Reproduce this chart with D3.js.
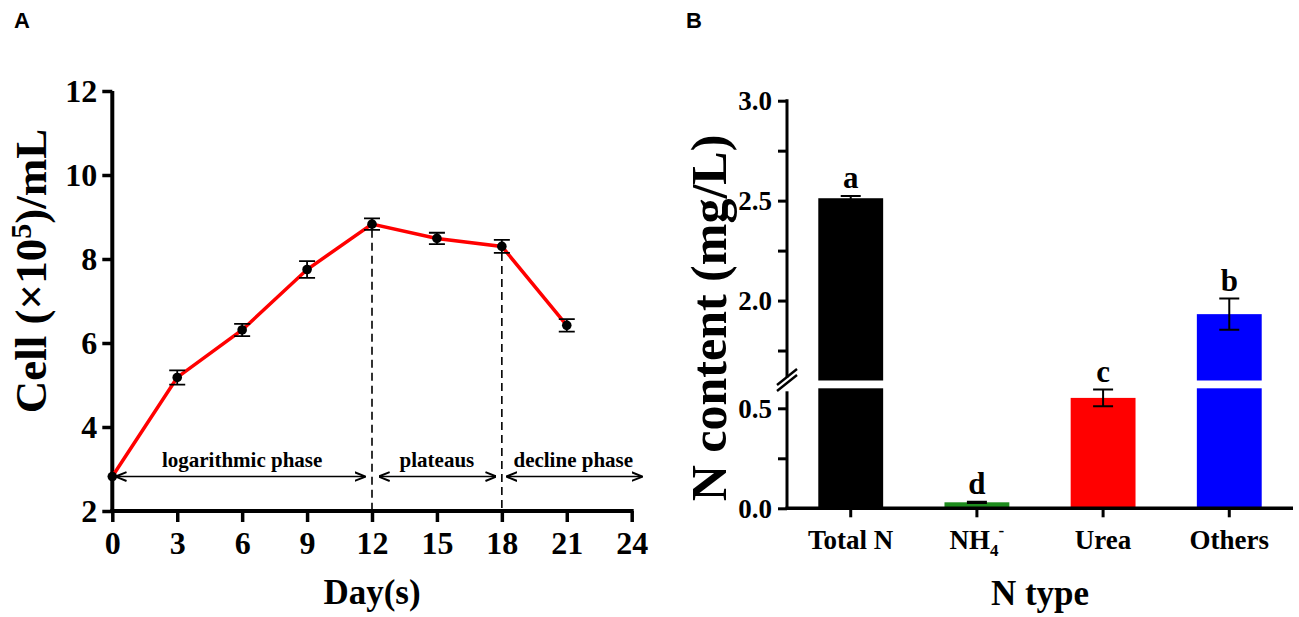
<!DOCTYPE html>
<html><head><meta charset="utf-8">
<script src="https://cdn.jsdelivr.net/npm/d3@7"></script>
<style>
body{margin:0;background:#fff;}
svg{display:block;}
text{font-family:"Liberation Serif","Times New Roman",serif;font-weight:bold;fill:#000;}
.pan{font-family:"Liberation Sans",Arial,sans-serif;}
</style></head><body>
<script>
// ---------- Panel A data ----------
const days = [0, 3, 6, 9, 12, 15, 18, 21];
const cells = [2.82, 5.18, 6.31, 7.75, 8.83, 8.49, 8.30, 6.42];
const cellErr = [0, 0.17, 0.145, 0.20, 0.135, 0.135, 0.155, 0.15];
const dayTicks = [0, 3, 6, 9, 12, 15, 18, 21, 24];
const cellTicks = [2, 4, 6, 8, 10, 12];
const phaseLabels = ["logarithmic phase", "plateaus", "decline phase"];
const phaseStart = [0.2, 12.36, 18.25];
const phaseEnd = [11.65, 17.7, 24.45];
const phaseCenter = [6, 15, 21.3];
const phaseDividers = [12, 18];

// ---------- Panel B data ----------
const nTypes = ["Total N", "NH4-", "Urea", "Others"];
const nValues = [2.512, 0.03, 0.552, 1.932];
const nErr = [0.011, 0.003, 0.042, 0.078];
const nLetters = ["a", "d", "c", "b"];
const nColors = ["#000000", "#1e8c1e", "#ff0000", "#0000ff"];
const lowTicks = [0, 0.25, 0.5];
const highTicks = [1.75, 2.0, 2.25, 2.5, 2.75, 3.0];

const W = 1299, H = 617;
const svg = d3.select("body").append("svg").attr("width", W).attr("height", H);

// ================= Panel A =================
const xA = d3.scaleLinear().domain([0, 24]).range([112.3, 631.7]);
const yA = d3.scaleLinear().domain([2, 12]).range([511, 91]);
const gA = svg.append("g");

svg.append("text").attr("class","pan").attr("x", 22).attr("y", 28).attr("text-anchor","middle")
  .style("font-size","22px").text("A");

// axes
const axL = gA.append("g").attr("transform", `translate(${xA(0)},0)`)
  .call(d3.axisLeft(yA).tickValues(cellTicks).tickSize(10).tickSizeOuter(0).tickFormat(d3.format("d")));
axL.select(".domain").attr("stroke-width", 4).attr("d", `M0,${yA(12)}V${yA(2)+2}`);
axL.selectAll(".tick line").attr("stroke-width", 3.5);
axL.selectAll(".tick text").attr("x", -15).attr("dy","0.34em").style("font-size","32px")
  .style("font-family","Liberation Serif").style("font-weight","bold");

const axB = gA.append("g").attr("transform", `translate(0,${yA(2)})`)
  .call(d3.axisBottom(xA).tickValues(dayTicks).tickSize(11).tickSizeOuter(0));
axB.select(".domain").attr("stroke-width", 4).attr("d", `M${xA(0)-2},0H${xA(24)+2}`);
axB.selectAll(".tick line").attr("stroke-width", 3.5);
axB.selectAll(".tick text").attr("y", 20).attr("dy","0.71em").style("font-size","32px")
  .style("font-family","Liberation Serif").style("font-weight","bold");

gA.append("text").attr("x", xA(12)).attr("y", 604).attr("text-anchor","middle")
  .style("font-size","35px").text("Day(s)");

const ylabA = gA.append("text").attr("transform", `translate(46,${271}) rotate(-90)`)
  .attr("text-anchor","middle").style("font-size","45px");
ylabA.append("tspan").text("Cell (×10");
ylabA.append("tspan").attr("dy", -15).style("font-size","30px").text("5");
ylabA.append("tspan").attr("dy", 15).text(")/mL");

// dashed phase dividers
phaseDividers.forEach(d => {
  const i = days.indexOf(d);
  gA.append("line").attr("x1", xA(d)).attr("x2", xA(d))
    .attr("y1", yA(cells[i] - cellErr[i])).attr("y2", yA(2))
    .attr("stroke","#000").attr("stroke-width",1.6).attr("stroke-dasharray","8,5");
});

// arrows
const defs = svg.append("defs");
defs.append("marker").attr("id","arr").attr("viewBox","0 0 10 10").attr("refX",9).attr("refY",5)
  .attr("markerWidth",11).attr("markerHeight",11).attr("markerUnits","userSpaceOnUse").attr("orient","auto-start-reverse")
  .append("path").attr("d","M0,1 L10,5 L0,9").attr("fill","none").attr("stroke","#000").attr("stroke-width",1.8);
const arrowY = yA(cells[0]);
phaseLabels.forEach((lab, i) => {
  gA.append("line").attr("x1", xA(phaseStart[i])).attr("x2", xA(phaseEnd[i]))
    .attr("y1", arrowY).attr("y2", arrowY).attr("stroke","#000").attr("stroke-width",1.5)
    .attr("marker-start","url(#arr)").attr("marker-end","url(#arr)");
  gA.append("text").attr("x", xA(phaseCenter[i])).attr("y", arrowY - 10).attr("text-anchor","middle")
    .style("font-size","21px").text(lab);
});

// line
gA.append("path").datum(days.map((d,i)=>[d,cells[i]]))
  .attr("d", d3.line().x(d=>xA(d[0])).y(d=>yA(d[1])))
  .attr("fill","none").attr("stroke","#ff0000").attr("stroke-width",3.5);

// error bars
days.forEach((d,i) => {
  if (cellErr[i] <= 0) return;
  const x = xA(d), y1 = yA(cells[i]+cellErr[i]), y2 = yA(cells[i]-cellErr[i]);
  gA.append("path").attr("d", `M${x},${y1}V${y2}M${x-8},${y1}H${x+8}M${x-8},${y2}H${x+8}`)
    .attr("stroke","#000").attr("stroke-width",1.8).attr("fill","none");
});
gA.selectAll("circle.pt").data(days).join("circle").attr("class","pt")
  .attr("cx", d=>xA(d)).attr("cy", (d,i)=>yA(cells[i])).attr("r", 4.8).attr("fill","#000");

// ================= Panel B =================
const gB = svg.append("g");
svg.append("text").attr("class","pan").attr("x", 694).attr("y", 28).attr("text-anchor","middle")
  .style("font-size","22px").text("B");

const axX = 787;
const xB = d3.scaleBand().domain(nTypes).range([axX, 1293]).paddingInner(0.486).paddingOuter(0.248);
const yLow = d3.scaleLinear().domain([0, 0.6]).range([508.3, 388.3]);
const yHigh = d3.scaleLinear().domain([1.6, 3.0]).range([380.5, 100.7]);

// bars
nTypes.forEach((t,i) => {
  const v = nValues[i];
  const x = xB(t), w = xB.bandwidth();
  if (v <= 0.6) {
    gB.append("rect").attr("x", x).attr("width", w).attr("y", yLow(v)).attr("height", yLow(0)-yLow(v)).attr("fill", nColors[i]);
  } else {
    gB.append("rect").attr("x", x).attr("width", w).attr("y", yLow(0.6)).attr("height", yLow(0)-yLow(0.6)).attr("fill", nColors[i]);
    gB.append("rect").attr("x", x).attr("width", w).attr("y", yHigh(v)).attr("height", yHigh(1.6)-yHigh(v)).attr("fill", nColors[i]);
  }
  const ys = v > 0.6 ? yHigh : yLow;
  const cx = x + w/2;
  const yt = ys(v + nErr[i]), yb = ys(v - nErr[i]);
  gB.append("path").attr("d", `M${cx},${yt}V${yb}M${cx-10},${yt}H${cx+10}M${cx-10},${yb}H${cx+10}`)
    .attr("stroke","#000").attr("stroke-width",2).attr("fill","none");
  gB.append("text").attr("x", cx).attr("y", yt - 8).attr("text-anchor","middle")
    .style("font-size","31px").text(nLetters[i]);
});

// y axes (two segments)
const axLow = gB.append("g").attr("transform", `translate(${axX},0)`)
  .call(d3.axisLeft(yLow).tickValues(lowTicks).tickSize(9).tickSizeOuter(0)
    .tickFormat(d => (d === 0.25 ? "" : d3.format(".1f")(d))));
axLow.select(".domain").attr("stroke-width", 3).attr("d", `M0,${yLow(0)+1.5}V${yLow(0.6)+3}`);
const axHigh = gB.append("g").attr("transform", `translate(${axX},0)`)
  .call(d3.axisLeft(yHigh).tickValues(highTicks).tickSize(9).tickSizeOuter(0)
    .tickFormat(d => ([1.75,2.25,2.75].includes(d) ? "" : d3.format(".1f")(d))));
axHigh.select(".domain").attr("stroke-width", 3).attr("d", `M0,${yHigh(3.0)-1.5}V${yHigh(1.6)-3}`);
[axLow, axHigh].forEach(a => {
  a.selectAll(".tick line").attr("stroke-width", 3);
  a.selectAll(".tick text").attr("x", -15).attr("dy","0.34em").style("font-size","27px")
    .style("font-family","Liberation Serif").style("font-weight","bold");
});
// break marks
[0, 6].forEach(off => {
  gB.append("line").attr("x1", axX - 10).attr("y1", 388 + off - 3).attr("x2", axX + 10).attr("y2", 372 + off - 3)
    .attr("stroke","#000").attr("stroke-width",2.4);
});

// x axis
const axXB = gB.append("g").attr("transform", `translate(0,${yLow(0)})`)
  .call(d3.axisBottom(xB).tickSize(9).tickSizeOuter(0).tickFormat(""));
axXB.select(".domain").attr("stroke-width", 3.5).attr("d", `M${axX-1.5},0H1293`);
axXB.selectAll(".tick line").attr("stroke-width", 3);
nTypes.forEach(t => {
  const cx = xB(t) + xB.bandwidth()/2;
  const tx = gB.append("text").attr("x", cx).attr("y", 549).attr("text-anchor","middle").style("font-size","27px");
  if (t === "NH4-") {
    tx.append("tspan").text("NH");
    tx.append("tspan").attr("dy", 7).style("font-size","17px").text("4");
    tx.append("tspan").attr("dy", -20).style("font-size","17px").text("-");
  } else tx.text(t);
});

gB.append("text").attr("x", 1040).attr("y", 605).attr("text-anchor","middle")
  .style("font-size","35px").text("N type");

gB.append("text").attr("transform", `translate(726,318) rotate(-90)`).attr("text-anchor","middle")
  .style("font-size","50px").text("N content (mg/L)");
</script>
</body></html>
